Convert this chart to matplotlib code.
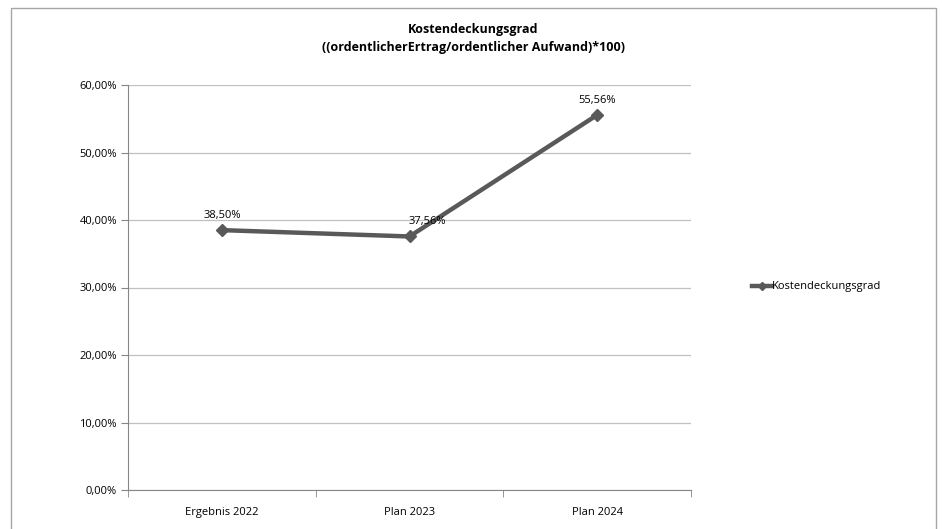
import matplotlib
matplotlib.use("Agg")
import matplotlib.pyplot as plt
from matplotlib.patches import Rectangle
from matplotlib.ticker import FixedLocator, FuncFormatter

# Chart data
categories = ['Ergebnis 2022', 'Plan 2023', 'Plan 2024']
values = [38.50, 37.56, 55.56]
value_labels = ['38,50%', '37,56%', '55,56%']
y_ticks = [0, 10, 20, 30, 40, 50, 60]

plt.rcParams['font.family'] = ['Open Sans', 'DejaVu Sans']

W, H = 942, 529
fig = plt.figure(figsize=(W / 100, H / 100), dpi=100)
fig.patch.set_facecolor('white')

# outer chart border (cut off at the bottom like the screenshot)
fig.patches.append(Rectangle((11 / W, -0.05), (936 - 11) / W, (H - 8) / H + 0.05,
                             transform=fig.transFigure, fill=False,
                             edgecolor='#a6a6a6', linewidth=1.0))

ax = fig.add_axes([128 / W, (H - 490) / H, (691 - 128) / W, (490 - 85) / H])

x = list(range(len(categories)))
line, = ax.plot(x, values, color='#595959', linewidth=3.2, marker='D',
                markersize=6.5, markerfacecolor='#595959', markeredgecolor='#595959',
                label='Kostendeckungsgrad', zorder=3)

ax.set_xlim(-0.5, len(categories) - 0.5)
ax.set_ylim(0, 60)
ax.set_yticks(y_ticks)
ax.yaxis.set_major_formatter(FuncFormatter(lambda v, p: f'{v:.2f}%'.replace('.', ',')))
ax.grid(axis='y', color='#c0c0c0', linewidth=0.9)
ax.set_axisbelow(True)

ax.set_xticks(x)
ax.set_xticklabels(categories)
ax.xaxis.set_minor_locator(FixedLocator([-0.5, 0.5, 1.5, 2.5]))
ax.tick_params(axis='x', which='major', length=0, pad=12, labelsize=8, colors='#000000')
ax.tick_params(axis='x', which='minor', length=5, direction='out', color='#868686')
ax.tick_params(axis='y', length=5, direction='out', color='#868686', labelsize=8, pad=3)

for s in ['top', 'right']:
    ax.spines[s].set_visible(False)
for s in ['left', 'bottom']:
    ax.spines[s].set_color('#868686')

# data labels
offsets = [(0, 6.5), (13, 6.5), (0, 6.5)]
for xi, v, lab, off in zip(x, values, value_labels, offsets):
    ax.annotate(lab, (xi, v), xytext=off, textcoords='offset points',
                ha='center', va='bottom', fontsize=8)

fig.text(473 / W, 1 - 29 / H, 'Kostendeckungsgrad', ha='center', va='center',
         fontsize=9, fontweight='bold')
fig.text(473 / W, 1 - 47 / H, '((ordentlicherErtrag/ordentlicher Aufwand)*100)',
         ha='center', va='center', fontsize=9, fontweight='bold')

fig.legend(handles=[line], loc='center left', bbox_to_anchor=(746 / W, 1 - 287 / H),
           frameon=False, fontsize=8, handlelength=1.8, handletextpad=0.0,
           borderpad=0, markerscale=0.6)

plt.savefig('out.png', dpi=100)
